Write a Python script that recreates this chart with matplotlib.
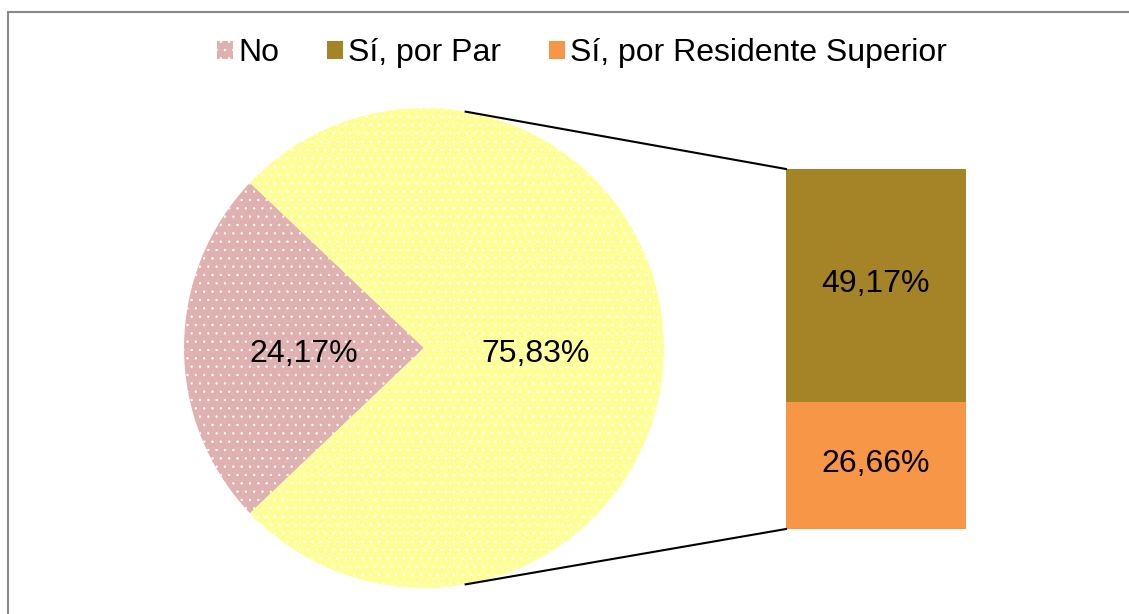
import numpy as np
import matplotlib.pyplot as plt
import matplotlib.patches as mpatches

plt.rcParams['font.family'] = ['Liberation Sans', 'DejaVu Sans']
plt.rcParams['hatch.linewidth'] = 0.5

# data
pie_labels = ['No', 'Sí']
pie_values = [24.17, 75.83]
bar_labels = ['Sí, por Par', 'Sí, por Residente Superior']
bar_values = [49.17, 26.66]
legend_labels = ['No', 'Sí, por Par', 'Sí, por Residente Superior']

c_no = '#E0B1B1'
c_si = '#FFFF99'
c_par = '#A58327'
c_res = '#F79646'

W, H = 1129, 614
fig = plt.figure(figsize=(W / 100, H / 100), dpi=100)
ax = fig.add_axes([0, 0, 1, 1])

# pie
cx, cy, r = 424, H - 348, 240
start = 180 - pie_values[0] / 100 * 360 / 2
wedges, _ = ax.pie(pie_values, colors=[c_no, c_si], startangle=start,
                   center=(cx, cy), radius=r, frame=True,
                   wedgeprops=dict(edgecolor='white', linewidth=0, hatch='..'))
ax.set_xlim(0, W)
ax.set_ylim(0, H)
ax.set_aspect('equal')
ax.axis('off')

# outer frame
ax.add_patch(mpatches.Rectangle((8, -10), W, H - 12 + 10, fill=False,
                                edgecolor='#888888', linewidth=1.5))

fs = 23
ax.text(304, H - 354, f"{pie_values[0]:.2f}%".replace('.', ','), fontsize=fs,
        ha='center', va='center')
ax.text(536, H - 354, f"{pie_values[1]:.2f}%".replace('.', ','), fontsize=fs,
        ha='center', va='center')

# stacked bar (pie of pie)
bx, bw = 786, 180
btop, bbot = H - 169, H - 529
scale = (btop - bbot) / sum(bar_values)
y0 = btop
for v, c in zip(bar_values, [c_par, c_res]):
    h = v * scale
    ax.bar(bx + bw / 2, h, width=bw, bottom=y0 - h, color=c, linewidth=0)
    ax.text(bx + bw / 2, y0 - h / 2 + 2, f"{v:.2f}%".replace('.', ','),
            fontsize=fs, ha='center', va='center')
    y0 -= h

# connector lines
ang = np.deg2rad(80)
ax.plot([cx + r * np.cos(ang), bx], [cy + r * np.sin(ang), btop],
        color='black', linewidth=1.5)
ax.plot([cx + r * np.cos(-ang), bx], [cy + r * np.sin(-ang), bbot],
        color='black', linewidth=1.5)

# legend
handles = [mpatches.Patch(facecolor=c_no, edgecolor='white', hatch='..', linewidth=0),
           mpatches.Patch(facecolor=c_par, linewidth=0),
           mpatches.Patch(facecolor=c_res, linewidth=0)]
fig.legend(handles, legend_labels, loc='center', bbox_to_anchor=(582 / W, 1 - 53 / H),
           ncol=3, frameon=False, fontsize=fs, handlelength=0.5, handleheight=0.5,
           handletextpad=0.15, columnspacing=1.5)

fig.savefig('out.png', dpi=100)
